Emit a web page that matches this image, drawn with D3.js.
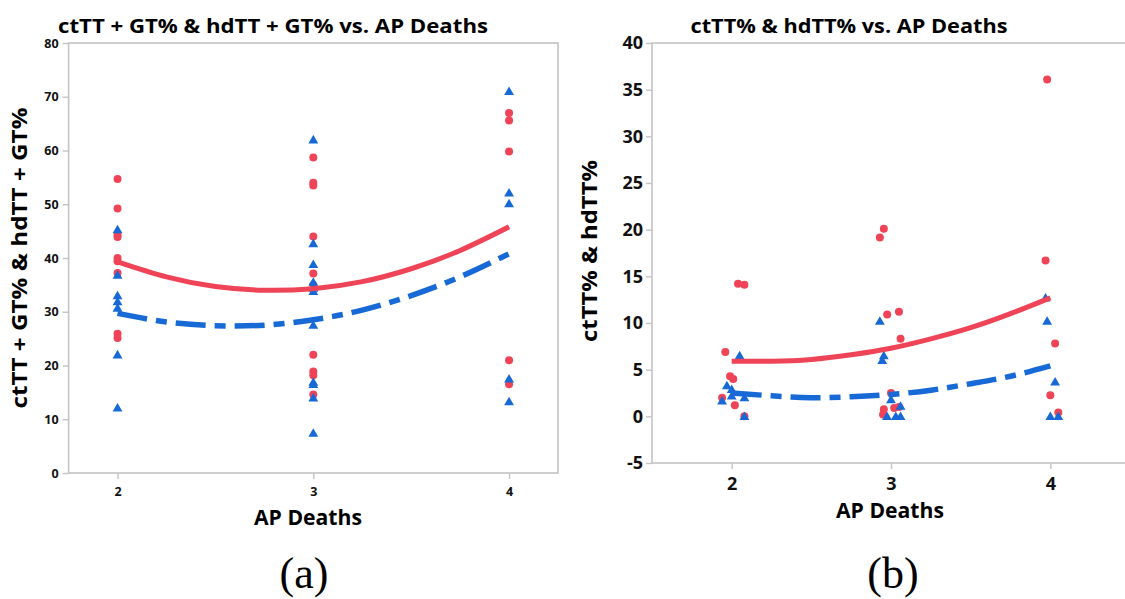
<!DOCTYPE html>
<html>
<head>
<meta charset="utf-8">
<script src="https://cdn.jsdelivr.net/npm/d3@7"></script>
<style>
  body { margin: 0; background: #fff; }
  svg { display: block; font-family: "Open Sans", sans-serif; }
</style>
</head>
<body>
<svg id="chart" width="1125" height="599"></svg>
<script>
// panel (a): values per AP Deaths group, no jitter
const deathsA = [2, 3, 4];
const redA = [
    [54.7, 49.2, 44.3, 43.9, 40.0, 39.4, 37.2, 25.9, 25.1],
    [58.7, 54.0, 53.5, 44.0, 37.1, 35.0, 22.0, 18.9, 18.2, 14.6],
    [67.0, 65.6, 59.8, 21.0, 16.5]
];
const blueA = [
    [45.3, 36.8, 33.0, 31.9, 30.7, 22.0, 12.1],
    [62.0, 42.7, 38.8, 35.5, 34.4, 33.8, 27.5, 16.9, 16.5, 14.0, 7.4],
    [71.0, 52.1, 50.1, 17.5, 13.3]
];

// panel (b): jittered points
const redBx = [1.96, 1.99, 2.01, 1.94, 2.02, 2.08, 2.04, 2.08,
               2.955, 2.93, 2.976, 3.05, 3.06, 3.0, 2.955, 2.95, 3.02, 3.05,
               3.98, 3.97, 4.03, 4.0, 4.05];
const redBy = [6.9, 4.3, 4.0, 2.0, 1.2, 0.0, 14.2, 14.1,
               20.1, 19.15, 10.9, 11.2, 8.3, 2.5, 0.75, 0.2, 0.9, 1.0,
               36.1, 16.7, 7.8, 2.25, 0.4];
const blueBx = [2.05, 1.97, 2.0, 2.0, 1.94, 2.08, 2.08,
                2.93, 2.955, 2.945, 3.0, 3.06, 2.975, 3.03, 3.06,
                3.97, 3.98, 4.03, 4.0, 4.05];
const blueBy = [6.5, 3.3, 2.9, 2.2, 1.65, 2.0, 0.0,
                10.2, 6.5, 6.0, 1.8, 1.1, 0.0, 0.0, 0.0,
                12.7, 10.2, 3.7, 0.0, 0.0];

// fitted curves
const fitX = [2, 2.25, 2.5, 2.75, 3, 3.25, 3.5, 3.75, 4];
const redFitA = [39.3, 36.5, 34.7, 34.0, 34.3, 35.6, 38.0, 41.4, 45.8];
const blueFitA = [29.7, 28.1, 27.4, 27.5, 28.5, 30.3, 33.0, 36.5, 40.8];
const redFitB = [5.9, 5.9, 6.1, 6.6, 7.3, 8.3, 9.5, 11.0, 12.7];
const blueFitB = [2.5, 2.2, 2.0, 2.1, 2.35, 2.8, 3.5, 4.3, 5.4];

const xTicks = [2, 3, 4];
const yTicksA = [0, 10, 20, 30, 40, 50, 60, 70, 80];
const yTicksB = [-5, 0, 5, 10, 15, 20, 25, 30, 35, 40];

const RED = "#ef4457";
const BLUE = "#1769d6";
const FRAME = "#c4c4c4";

const svg = d3.select("#chart");
const plain = d => String(d);

function drawPanel(cfg) {
    const g = svg.append("g");
    const x = d3.scaleLinear().domain(cfg.xdomain).range([cfg.left, cfg.right]);
    const y = d3.scaleLinear().domain(cfg.ydomain).range([cfg.bottom, cfg.top]);

    // frame
    g.append("rect")
        .attr("x", cfg.left).attr("y", cfg.top)
        .attr("width", cfg.right - cfg.left).attr("height", cfg.bottom - cfg.top)
        .attr("fill", "none").attr("stroke", FRAME).attr("stroke-width", 1.6);

    const yaxis = g.append("g")
        .attr("transform", `translate(${cfg.left},0)`)
        .call(d3.axisLeft(y).tickValues(cfg.yticks).tickFormat(plain)
            .tickSize(6).tickPadding(cfg.tickPad));
    const xaxis = g.append("g")
        .attr("transform", `translate(0,${cfg.bottom})`)
        .call(d3.axisBottom(x).tickValues(xTicks).tickFormat(plain)
            .tickSize(6).tickPadding(cfg.tickPadX));
    [yaxis, xaxis].forEach(a => {
        a.select(".domain").remove();
        a.selectAll("line").attr("stroke", FRAME).attr("stroke-width", 1.4);
        a.selectAll("text")
            .attr("fill", "#111")
            .style("font-size", cfg.tickSize + "px")
            .style("font-weight", "bold")
            .style("font-family", "'Open Sans', sans-serif");
    });

    // points
    const tri = d3.symbol().type(d3.symbolTriangle).size(cfg.triSize);
    g.selectAll("circle.red")
        .data(cfg.red)
        .join("circle")
        .attr("cx", d => x(d[0]))
        .attr("cy", d => y(d[1]))
        .attr("r", cfg.r)
        .attr("fill", RED);
    g.selectAll("path.blue")
        .data(cfg.blue)
        .join("path")
        .attr("d", tri)
        .attr("transform", d => `translate(${x(d[0])},${y(d[1]) + 0.8})`)
        .attr("fill", BLUE);

    // fits
    const line = d3.line().x(d => x(d[0])).y(d => y(d[1])).curve(d3.curveNatural);
    g.append("path")
        .attr("d", line(fitX.map((v, i) => [v, cfg.redFit[i]])))
        .attr("fill", "none").attr("stroke", RED).attr("stroke-width", 5);
    g.append("path")
        .attr("d", line(fitX.map((v, i) => [v, cfg.blueFit[i]])))
        .attr("fill", "none").attr("stroke", BLUE).attr("stroke-width", 5.5)
        .attr("stroke-dasharray", "30,9,11,9");

    // texts
    g.append("text")
        .attr("x", cfg.titleX).attr("y", 33)
        .attr("text-anchor", "middle")
        .attr("textLength", cfg.titleLen).attr("lengthAdjust", "spacingAndGlyphs")
        .style("font-size", "20px").style("font-weight", "bold")
        .text(cfg.title);
    g.append("text")
        .attr("x", cfg.xTitleX).attr("y", cfg.xTitleY)
        .attr("text-anchor", "middle")
        .attr("textLength", 108).attr("lengthAdjust", "spacingAndGlyphs")
        .style("font-size", "21px").style("font-weight", "bold")
        .text("AP Deaths");
    g.append("text")
        .attr("transform", `translate(${cfg.yTitleX},${cfg.yTitleY}) rotate(-90)`)
        .attr("text-anchor", "middle")
        .attr("textLength", cfg.yTitleLen).attr("lengthAdjust", "spacingAndGlyphs")
        .style("font-size", "21px").style("font-weight", "bold")
        .text(cfg.yTitle);
    g.append("text")
        .attr("x", cfg.tagX).attr("y", 588)
        .attr("text-anchor", "middle")
        .style("font-family", "'Liberation Serif', serif")
        .style("font-size", "44px")
        .text(cfg.tag);
}

const pointsA = (groups) => groups.flatMap((vals, i) => vals.map(v => [deathsA[i], v]));

drawPanel({
    left: 68.6, right: 558, top: 43, bottom: 473,
    xdomain: [1.75, 4.25], ydomain: [0, 80], yticks: yTicksA,
    tickSize: 12.5, tickPad: 4, tickPadX: 8,
    red: pointsA(redA), blue: pointsA(blueA),
    redFit: redFitA, blueFit: blueFitA,
    r: 4, triSize: 42,
    title: "ctTT + GT% & hdTT + GT% vs. AP Deaths", titleX: 273, titleLen: 430,
    xTitleX: 308, xTitleY: 525,
    yTitle: "ctTT + GT% & hdTT + GT%", yTitleX: 27, yTitleY: 258, yTitleLen: 301,
    tag: "(a)", tagX: 304
});

drawPanel({
    left: 652, right: 1130, top: 43, bottom: 463,
    xdomain: [1.5, 4.5], ydomain: [-5, 40], yticks: yTicksB,
    tickSize: 18, tickPad: 3, tickPadX: 8,
    red: redBx.map((v, i) => [v, redBy[i]]), blue: blueBx.map((v, i) => [v, blueBy[i]]),
    redFit: redFitB, blueFit: blueFitB,
    r: 4, triSize: 42,
    title: "ctTT% & hdTT% vs. AP Deaths", titleX: 849, titleLen: 317,
    xTitleX: 890, xTitleY: 518,
    yTitle: "ctTT% & hdTT%", yTitleX: 597, yTitleY: 251, yTitleLen: 182,
    tag: "(b)", tagX: 893
});
</script>
</body>
</html>
